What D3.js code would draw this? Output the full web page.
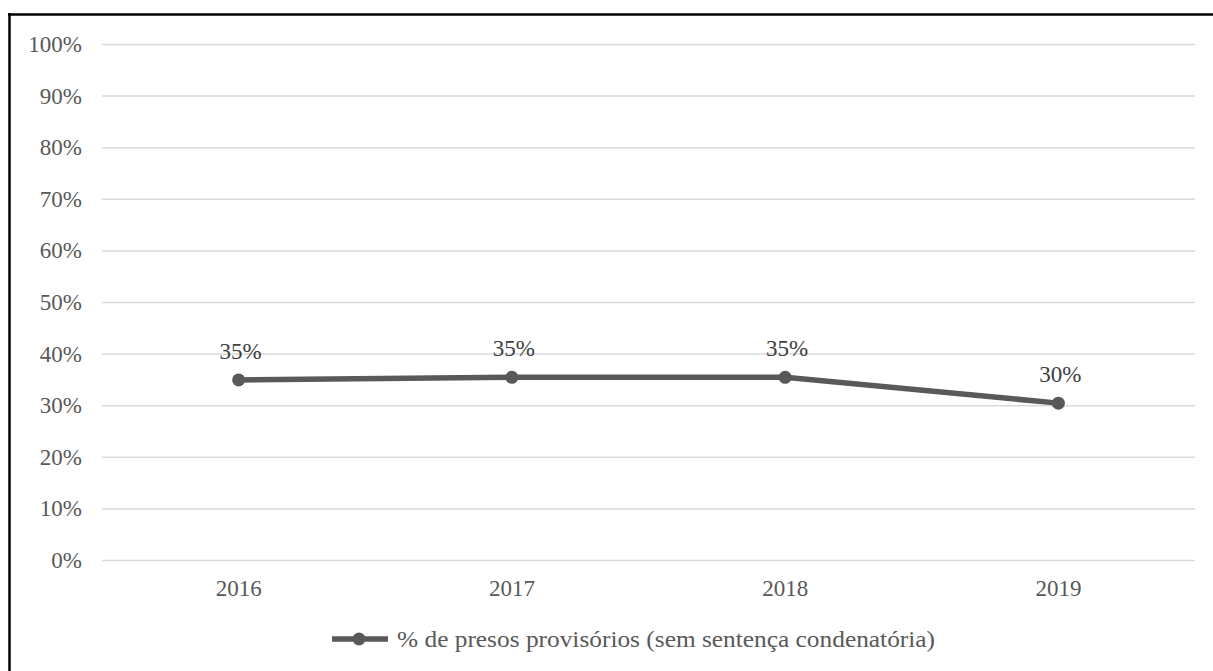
<!DOCTYPE html>
<html><head><meta charset="utf-8">
<script src="https://cdn.jsdelivr.net/npm/d3@7"></script>
<style>html,body{margin:0;padding:0;background:#fff;}svg{display:block;}
svg text{font-family:"Liberation Serif","DejaVu Serif","Times New Roman",serif;}</style>
</head><body>
<svg id="chart" width="1213" height="671"></svg>
<script>
const years = ["2016", "2017", "2018", "2019"];
const values = [0.349, 0.354, 0.354, 0.304];
const yTicks = [0, 0.1, 0.2, 0.3, 0.4, 0.5, 0.6, 0.7, 0.8, 0.9, 1.0];
const seriesName = "% de presos provisórios (sem sentença condenatória)";

const svg = d3.select("#chart");
const grey = "#595959";

// frame (top and left only visible)
svg.append("line").attr("x1", 8).attr("x2", 1213).attr("y1", 14.5).attr("y2", 14.5)
  .attr("stroke", "#000").attr("stroke-width", 2.5);
svg.append("line").attr("x1", 9.5).attr("x2", 9.5).attr("y1", 13).attr("y2", 671)
  .attr("stroke", "#000").attr("stroke-width", 2.5);

const x = d3.scaleBand().domain(years).range([102, 1195]).padding(0);
const y = d3.scaleLinear().domain([0, 1]).range([560, 44]);

// gridlines + y axis
const yAxis = d3.axisLeft(y).tickValues(yTicks).tickFormat(d3.format(".0%"))
  .tickSize(-(1195 - 102)).tickPadding(20);
const gy = svg.append("g").attr("transform", "translate(102,0)").call(yAxis);
gy.select(".domain").remove();
gy.selectAll(".tick line").attr("stroke", "#d9d9d9").attr("stroke-width", 1.5);
gy.selectAll(".tick text").attr("fill", grey).attr("font-family", null)
  .attr("font-size", 23).attr("dy", "0.33em");

// x axis
const xAxis = d3.axisBottom(x).tickSize(0).tickPadding(0);
const gx = svg.append("g").attr("transform", "translate(0,596)").call(xAxis);
gx.select(".domain").remove();
gx.selectAll(".tick text").attr("fill", grey).attr("font-family", null)
  .attr("font-size", 23).attr("dy", 0);

// line
const pts = years.map((d, i) => [x(d) + x.bandwidth() / 2, y(values[i])]);
svg.append("path").datum(pts).attr("d", d3.line())
  .attr("fill", "none").attr("stroke", grey).attr("stroke-width", 5.5)
  .attr("stroke-linejoin", "round");
svg.selectAll("circle.pt").data(pts).join("circle").attr("class", "pt")
  .attr("cx", d => d[0]).attr("cy", d => d[1]).attr("r", 6.5).attr("fill", grey);

// data labels
svg.selectAll("text.lbl").data(values).join("text").attr("class", "lbl")
  .attr("x", (d, i) => pts[i][0] + 2).attr("y", (d, i) => pts[i][1] - 21)
  .attr("text-anchor", "middle").attr("fill", "#404040")
  .attr("font-size", 23)
  .text(d => d3.format(".0%")(d));

// legend
const lg = svg.append("g");
lg.append("line").attr("x1", 332).attr("x2", 388).attr("y1", 639).attr("y2", 639)
  .attr("stroke", grey).attr("stroke-width", 5.5);
lg.append("circle").attr("cx", 359).attr("cy", 639).attr("r", 6.5).attr("fill", grey);
lg.append("text").attr("x", 397).attr("y", 647).attr("fill", grey)
  .attr("font-size", 23).attr("textLength", 538).attr("lengthAdjust", "spacingAndGlyphs")
  .text(seriesName);
</script>
</body></html>
